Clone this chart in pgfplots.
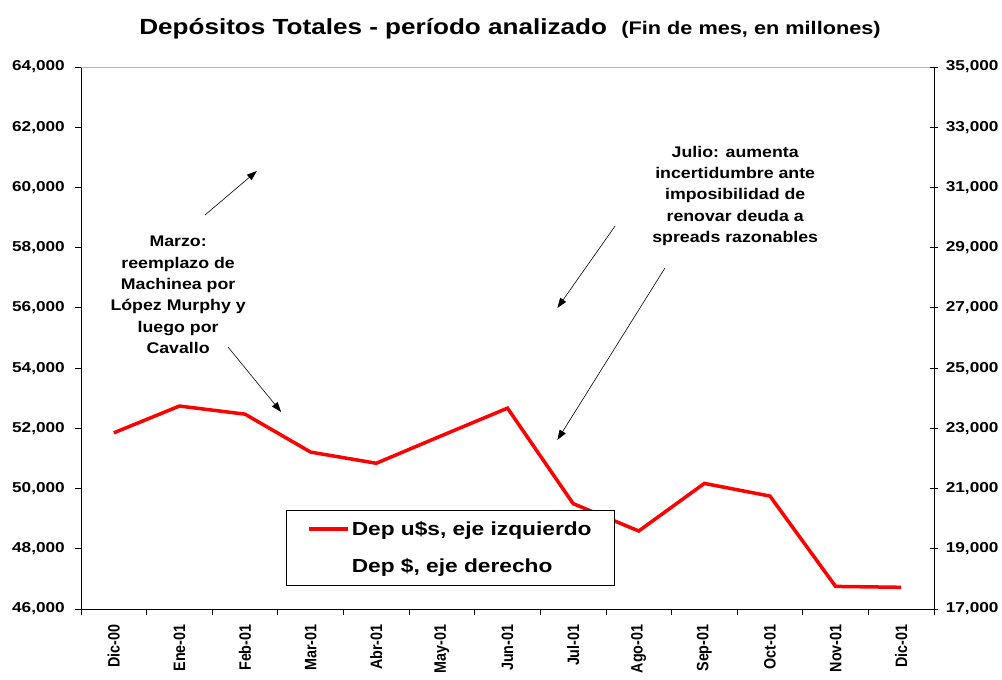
\documentclass[border=0pt]{standalone}
\usepackage{pgfplots}
\pgfplotsset{compat=1.18}
\usepackage{graphicx}
\usepackage{fontspec}
\setmainfont{Liberation Sans}
\usetikzlibrary{arrows.meta}
\newcommand\tickfont{\fontsize{14.4}{17}\selectfont\bfseries}
\newcommand\notefont{\fontsize{15.5}{21.5}\selectfont\bfseries}
\begin{document}
\begin{tikzpicture}[x=1bp,y=1bp]
\path[use as bounding box] (0,0) rectangle (1002,680);
\node[xscale=1.19] at (510,651) {\fontsize{22}{26}\selectfont\bfseries Depósitos Totales - período analizado\ \ {\fontsize{18.3}{22}\selectfont (Fin de mes, en millones)}};
\begin{axis}[
  at={(81bp,71bp)}, anchor=south west, scale only axis,
  width=853bp, height=542bp,
  xmin=-0.5, xmax=12.5, ymin=46000, ymax=64000,
  ytick={46000,48000,...,64000},
  xtick={-0.5,0.5,...,12.5},
  xticklabels={Dic-00,Ene-01,Feb-01,Mar-01,Abr-01,May-01,Jun-01,Jul-01,Ago-01,Sep-01,Oct-01,Nov-01,Dic-01,{}},
  xticklabel style={font=\tickfont, rotate=90, anchor=east, yshift=-32.8bp, xshift=-6bp, yscale=1.15},
  yticklabel style={font=\tickfont, xscale=1.2, xshift=-5bp},
  scaled y ticks=false,
  /pgf/number format/.cd, fixed, precision=0, 1000 sep={,}, assume math mode=true, /pgfplots/.cd,
  axis x line*=bottom, axis y line*=left,
  tick align=outside, major tick length=6bp,
  axis line style={black, line width=0.8bp},
  tick style={black, line width=0.8bp},
  clip=false,
  legend style={at={(rel axis cs:0.2403,0.1827)}, anchor=north west, draw=black, line width=0.6bp,
    font=\fontsize{19}{22}\selectfont\bfseries, inner xsep=21bp, inner ysep=9bp, row sep=18bp},
  legend cell align=left,
  legend image code/.code={\draw[#1] (0bp,0bp) -- (39bp,0bp);},
]
\draw[gray!60, line width=0.8bp] (rel axis cs:0,1) -- (rel axis cs:1,1);
\addplot[red, line width=3.5bp] coordinates {
 (0,51850) (1,52740) (2,52470) (3,51210) (4,50840) (5,51760) (6,52670)
 (7,49500) (8,48590) (9,50170) (10,49750) (11,46750) (12,46720)};
\addlegendentry{\scalebox{1.2}[1]{Dep u\$s, eje izquierdo}}
\addlegendimage{draw opacity=0}
\addlegendentry{\scalebox{1.2}[1]{Dep \$, eje derecho}}
\draw[-{Triangle[length=10bp,width=7bp]}, line width=0.6bp] (axis cs:1.39,59085) -- (axis cs:2.18,60546);
\draw[-{Triangle[length=10bp,width=7bp]}, line width=0.6bp] (axis cs:1.74,54701) -- (axis cs:2.55,52542);
\draw[-{Triangle[length=10bp,width=7bp]}, line width=0.6bp] (axis cs:7.64,58720) -- (axis cs:6.76,55996);
\draw[-{Triangle[length=10bp,width=7bp]}, line width=0.6bp] (axis cs:8.40,57325) -- (axis cs:6.76,51613);
\node[align=center, font=\notefont, xscale=1.15] at (axis cs:0.98,56428) {Marzo:\\reemplazo de\\Machinea por\\López Murphy y\\luego por\\Cavallo};
\node[align=center, font=\notefont, xscale=1.15] at (axis cs:9.47,59716) {Julio: aumenta\\incertidumbre ante\\imposibilidad de\\renovar deuda a\\spreads razonables};
\end{axis}
\begin{axis}[
  at={(81bp,71bp)}, anchor=south west, scale only axis,
  width=853bp, height=542bp,
  xmin=-0.5, xmax=12.5, ymin=17000, ymax=35000,
  ytick={17000,19000,...,35000},
  axis x line=none, axis y line*=right,
  yticklabel style={font=\tickfont, xscale=1.2, xshift=3bp},
  scaled y ticks=false,
  /pgf/number format/.cd, fixed, precision=0, 1000 sep={,}, assume math mode=true, /pgfplots/.cd,
  tick align=center, major tick length=8bp,
  axis line style={black, line width=0.8bp},
  tick style={black, line width=0.8bp},
]
\end{axis}
\end{tikzpicture}
\end{document}
